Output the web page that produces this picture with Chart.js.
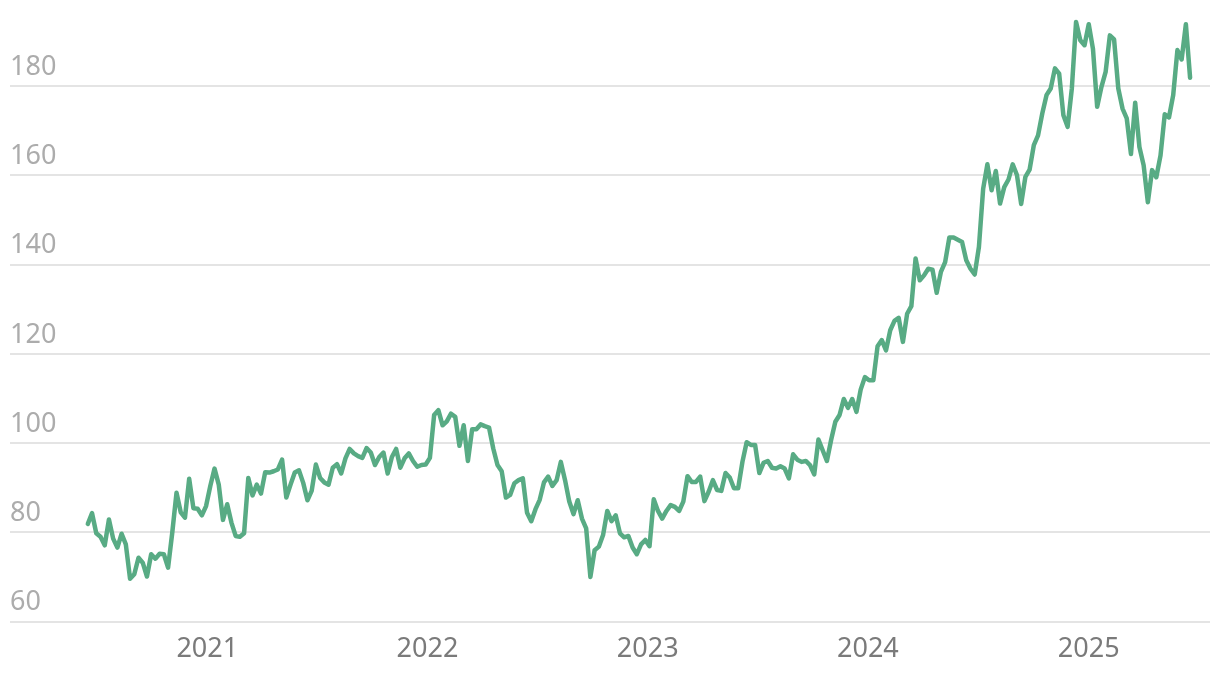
<!DOCTYPE html>
<html>
<head>
<meta charset="utf-8">
<script src="https://cdn.jsdelivr.net/npm/chart.js@4.4.1/dist/chart.umd.min.js"></script>
<style>
  body { margin: 0; background: #fff; }
  canvas { display: block; }
</style>
</head>
<body>
<canvas id="price-chart" width="1220" height="678"></canvas>
<script>
// weekly closes, first week starting 2020-06-17
const firstWeek = '2020-06-17';
const prices = [
  81.9, 84.3, 79.8, 79.0, 77.1, 82.9, 78.6, 76.6, 79.7, 77.3,
  69.6, 70.6, 74.3, 73.2, 70.1, 75.1, 74.1, 75.2, 75.1, 72.1,
  80.0, 88.9, 84.5, 83.3, 92.0, 85.4, 85.3, 83.8, 85.9, 90.4,
  94.3, 90.7, 82.8, 86.3, 82.2, 79.2, 79.0, 79.8, 92.2, 88.3,
  90.7, 88.7, 93.5, 93.4, 93.7, 94.1, 96.3, 87.8, 90.7, 93.4,
  93.9, 91.1, 87.2, 89.3, 95.2, 92.2, 91.2, 90.7, 94.5, 95.3,
  93.2, 96.6, 98.7, 97.7, 97.1, 96.7, 98.9, 97.9, 95.1, 96.9,
  97.9, 93.2, 96.9, 98.7, 94.5, 96.6, 97.7, 96.0, 94.7, 95.1,
  95.2, 96.7, 106.3, 107.4, 104.0, 104.9, 106.6, 105.9, 99.4, 104.0,
  96.0, 103.1, 103.1, 104.2, 103.8, 103.5, 98.8, 95.1, 93.7, 87.8,
  88.4, 91.0, 91.7, 92.1, 84.4, 82.5, 85.2, 87.3, 91.2, 92.5,
  90.4, 91.7, 95.8, 91.7, 86.9, 84.1, 87.2, 83.1, 80.9, 70.0,
  76.0, 76.8, 79.4, 84.8, 82.5, 83.8, 79.8, 78.9, 79.2, 76.6,
  75.1, 77.3, 78.3, 76.9, 87.4, 84.8, 83.1, 84.8, 86.1, 85.7,
  84.8, 86.9, 92.6, 91.3, 91.3, 92.5, 87.0, 89.1, 91.7, 89.5,
  89.3, 93.3, 92.3, 89.9, 89.9, 95.8, 100.2, 99.6, 99.6, 93.3,
  95.6, 96.0, 94.5, 94.3, 94.8, 94.3, 92.1, 97.5, 96.3, 95.8,
  96.0, 95.1, 93.0, 100.8, 98.4, 96.0, 100.7, 104.8, 106.3, 109.9,
  107.9, 109.9, 107.0, 112.0, 114.8, 114.1, 114.1, 121.7, 123.1, 120.8,
  125.3, 127.4, 128.1, 122.7, 129.0, 130.7, 141.4, 136.5, 137.6, 139.1,
  138.9, 133.7, 138.4, 140.6, 146.1, 146.1, 145.6, 145.1, 141.0, 139.1,
  137.8, 144.0, 157.0, 162.5, 156.7, 161.0, 153.7, 157.4, 159.1, 162.5,
  160.1, 153.6, 159.7, 161.3, 166.8, 169.0, 173.9, 178.0, 179.5, 184.0,
  182.8, 173.5, 170.9, 179.5, 194.4, 190.3, 189.2, 193.9, 188.4, 175.4,
  179.8, 183.2, 191.4, 190.5, 179.5, 175.0, 172.8, 164.8, 176.3, 166.4,
  162.3, 154.0, 161.2, 159.6, 164.5, 173.7, 173.0, 178.0, 188.1, 186.0,
  193.9, 181.9
];
const yearLabels = ['2021', '2022', '2023', '2024', '2025'];
const yTicks = [60, 80, 100, 120, 140, 160, 180];
const xRange = ['2020-02-09', '2025-07-21'];

const DAY = 86400000;
let dayOf = s => Date.parse(s + 'T00:00:00Z') / DAY;

let start = dayOf(firstWeek);
let points = prices.map((p, i) => ({x: start + i * 7, y: p}));
let yearDays = yearLabels.map(y => dayOf(y + '-01-01'));

new Chart(document.getElementById('price-chart'), {
  type: 'line',
  data: {
    datasets: [{
      data: points,
      borderColor: '#58ab84',
      borderWidth: 4.5,
      borderJoinStyle: 'round',
      borderCapStyle: 'round',
      pointRadius: 0,
      tension: 0,
      fill: false,
      clip: 6
    }]
  },
  options: {
    responsive: false,
    animation: false,
    layout: {padding: {left: 10, right: 10, top: 0, bottom: 0}},
    plugins: {legend: {display: false}, tooltip: {enabled: false}},
    scales: {
      x: {
        type: 'linear',
        min: dayOf(xRange[0]),
        max: dayOf(xRange[1]),
        afterBuildTicks: s => { s.ticks = yearDays.map(v => ({value: v})); },
        grid: {display: false, drawTicks: false},
        border: {display: false},
        ticks: {
          autoSkip: false,
          maxRotation: 0,
          padding: 12,
          color: '#7a7a7a',
          font: {family: '"Noto Sans", sans-serif', size: 27},
          callback: (v, i) => yearLabels[i]
        }
      },
      y: {
        min: 60,
        max: 195.7,
        afterBuildTicks: s => { s.ticks = yTicks.map(v => ({value: v})); },
        grid: {color: '#e4e4e4', lineWidth: 2, drawTicks: false},
        border: {display: false},
        ticks: {
          mirror: true,
          padding: 0,
          labelOffset: -19,
          color: '#acacac',
          font: {family: '"Noto Sans", sans-serif', size: 27},
          callback: v => String(v)
        }
      }
    }
  }
});
</script>
</body>
</html>
